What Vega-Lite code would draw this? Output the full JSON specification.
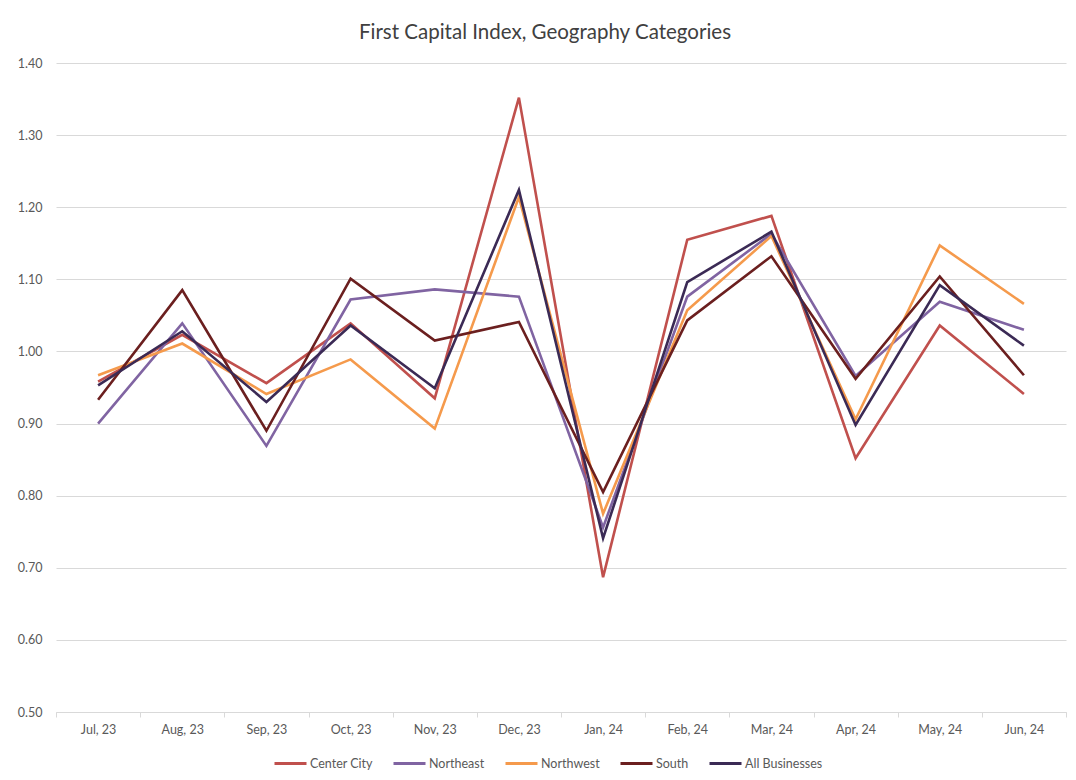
{
  "$schema": "https://vega.github.io/schema/vega-lite/v6.json",
  "autosize": "none",
  "width": 1010,
  "height": 649,
  "padding": {"left": 56, "top": 63, "right": 10, "bottom": 68},
  "background": "white",
  "title": {
    "text": "First Capital Index, Geography Categories",
    "font": "Lato",
    "fontSize": 20.5,
    "fontWeight": "normal",
    "color": "#404040",
    "anchor": "middle",
    "dx": -16,
    "offset": 14
  },
  "data": {
    "values": [
      {"m": "Jul, 23", "s": "Center City", "v": 0.958},
      {"m": "Aug, 23", "s": "Center City", "v": 1.023},
      {"m": "Sep, 23", "s": "Center City", "v": 0.956},
      {"m": "Oct, 23", "s": "Center City", "v": 1.039},
      {"m": "Nov, 23", "s": "Center City", "v": 0.935},
      {"m": "Dec, 23", "s": "Center City", "v": 1.352},
      {"m": "Jan, 24", "s": "Center City", "v": 0.687},
      {"m": "Feb, 24", "s": "Center City", "v": 1.155},
      {"m": "Mar, 24", "s": "Center City", "v": 1.188},
      {"m": "Apr, 24", "s": "Center City", "v": 0.852},
      {"m": "May, 24", "s": "Center City", "v": 1.036},
      {"m": "Jun, 24", "s": "Center City", "v": 0.941},
      {"m": "Jul, 23", "s": "Northeast", "v": 0.900},
      {"m": "Aug, 23", "s": "Northeast", "v": 1.039},
      {"m": "Sep, 23", "s": "Northeast", "v": 0.869},
      {"m": "Oct, 23", "s": "Northeast", "v": 1.072},
      {"m": "Nov, 23", "s": "Northeast", "v": 1.086},
      {"m": "Dec, 23", "s": "Northeast", "v": 1.076},
      {"m": "Jan, 24", "s": "Northeast", "v": 0.756},
      {"m": "Feb, 24", "s": "Northeast", "v": 1.076},
      {"m": "Mar, 24", "s": "Northeast", "v": 1.163},
      {"m": "Apr, 24", "s": "Northeast", "v": 0.966},
      {"m": "May, 24", "s": "Northeast", "v": 1.069},
      {"m": "Jun, 24", "s": "Northeast", "v": 1.030},
      {"m": "Jul, 23", "s": "Northwest", "v": 0.967},
      {"m": "Aug, 23", "s": "Northwest", "v": 1.011},
      {"m": "Sep, 23", "s": "Northwest", "v": 0.941},
      {"m": "Oct, 23", "s": "Northwest", "v": 0.989},
      {"m": "Nov, 23", "s": "Northwest", "v": 0.893},
      {"m": "Dec, 23", "s": "Northwest", "v": 1.214},
      {"m": "Jan, 24", "s": "Northwest", "v": 0.775},
      {"m": "Feb, 24", "s": "Northwest", "v": 1.057},
      {"m": "Mar, 24", "s": "Northwest", "v": 1.160},
      {"m": "Apr, 24", "s": "Northwest", "v": 0.906},
      {"m": "May, 24", "s": "Northwest", "v": 1.147},
      {"m": "Jun, 24", "s": "Northwest", "v": 1.066},
      {"m": "Jul, 23", "s": "South", "v": 0.933},
      {"m": "Aug, 23", "s": "South", "v": 1.085},
      {"m": "Sep, 23", "s": "South", "v": 0.890},
      {"m": "Oct, 23", "s": "South", "v": 1.101},
      {"m": "Nov, 23", "s": "South", "v": 1.015},
      {"m": "Dec, 23", "s": "South", "v": 1.041},
      {"m": "Jan, 24", "s": "South", "v": 0.805},
      {"m": "Feb, 24", "s": "South", "v": 1.043},
      {"m": "Mar, 24", "s": "South", "v": 1.132},
      {"m": "Apr, 24", "s": "South", "v": 0.962},
      {"m": "May, 24", "s": "South", "v": 1.104},
      {"m": "Jun, 24", "s": "South", "v": 0.967},
      {"m": "Jul, 23", "s": "All Businesses", "v": 0.953},
      {"m": "Aug, 23", "s": "All Businesses", "v": 1.028},
      {"m": "Sep, 23", "s": "All Businesses", "v": 0.930},
      {"m": "Oct, 23", "s": "All Businesses", "v": 1.036},
      {"m": "Nov, 23", "s": "All Businesses", "v": 0.949},
      {"m": "Dec, 23", "s": "All Businesses", "v": 1.224},
      {"m": "Jan, 24", "s": "All Businesses", "v": 0.741},
      {"m": "Feb, 24", "s": "All Businesses", "v": 1.096},
      {"m": "Mar, 24", "s": "All Businesses", "v": 1.166},
      {"m": "Apr, 24", "s": "All Businesses", "v": 0.898},
      {"m": "May, 24", "s": "All Businesses", "v": 1.092},
      {"m": "Jun, 24", "s": "All Businesses", "v": 1.008}
    ]
  },
  "mark": {"type": "line", "strokeWidth": 2.6, "strokeJoin": "miter", "strokeCap": "butt"},
  "encoding": {
    "x": {
      "field": "m",
      "type": "ordinal",
      "sort": ["Jul, 23", "Aug, 23", "Sep, 23", "Oct, 23", "Nov, 23", "Dec, 23", "Jan, 24", "Feb, 24", "Mar, 24", "Apr, 24", "May, 24", "Jun, 24"],
      "scale": {"type": "band", "paddingInner": 0, "paddingOuter": 0},
      "axis": {
        "title": null,
        "labelAngle": 0,
        "labelFont": "Lato",
        "labelFontSize": 12.5,
        "labelColor": "#595959",
        "labelPadding": 6,
        "domainColor": "#d9d9d9",
        "domainWidth": 1,
        "tickColor": "#d9d9d9",
        "tickSize": 5,
        "tickBand": "extent",
        "grid": false
      }
    },
    "y": {
      "field": "v",
      "type": "quantitative",
      "scale": {"domain": [0.5, 1.4], "nice": false, "zero": false},
      "axis": {
        "title": null,
        "values": [0.5, 0.6, 0.7, 0.8, 0.9, 1.0, 1.1, 1.2, 1.3, 1.4],
        "format": ".2f",
        "labelFont": "Lato",
        "labelFontSize": 12.5,
        "labelColor": "#595959",
        "labelPadding": 14,
        "domain": false,
        "ticks": false,
        "gridColor": "#d9d9d9",
        "gridWidth": 1
      }
    },
    "color": {
      "field": "s",
      "type": "nominal",
      "scale": {
        "domain": ["Center City", "Northeast", "Northwest", "South", "All Businesses"],
        "range": ["#c0504d", "#8064a2", "#f59a4c", "#6b1f1f", "#3b2a55"]
      },
      "legend": {
        "title": null,
        "orient": "none",
        "direction": "horizontal",
        "legendX": 217,
        "legendY": 683,
        "symbolType": "stroke",
        "symbolSize": 1024,
        "symbolStrokeWidth": 3,
        "labelFont": "Lato",
        "labelFontSize": 12.5,
        "labelColor": "#595959",
        "labelOffset": 2,
        "columnPadding": 14
      }
    }
  },
  "config": {"view": {"stroke": null}}
}
